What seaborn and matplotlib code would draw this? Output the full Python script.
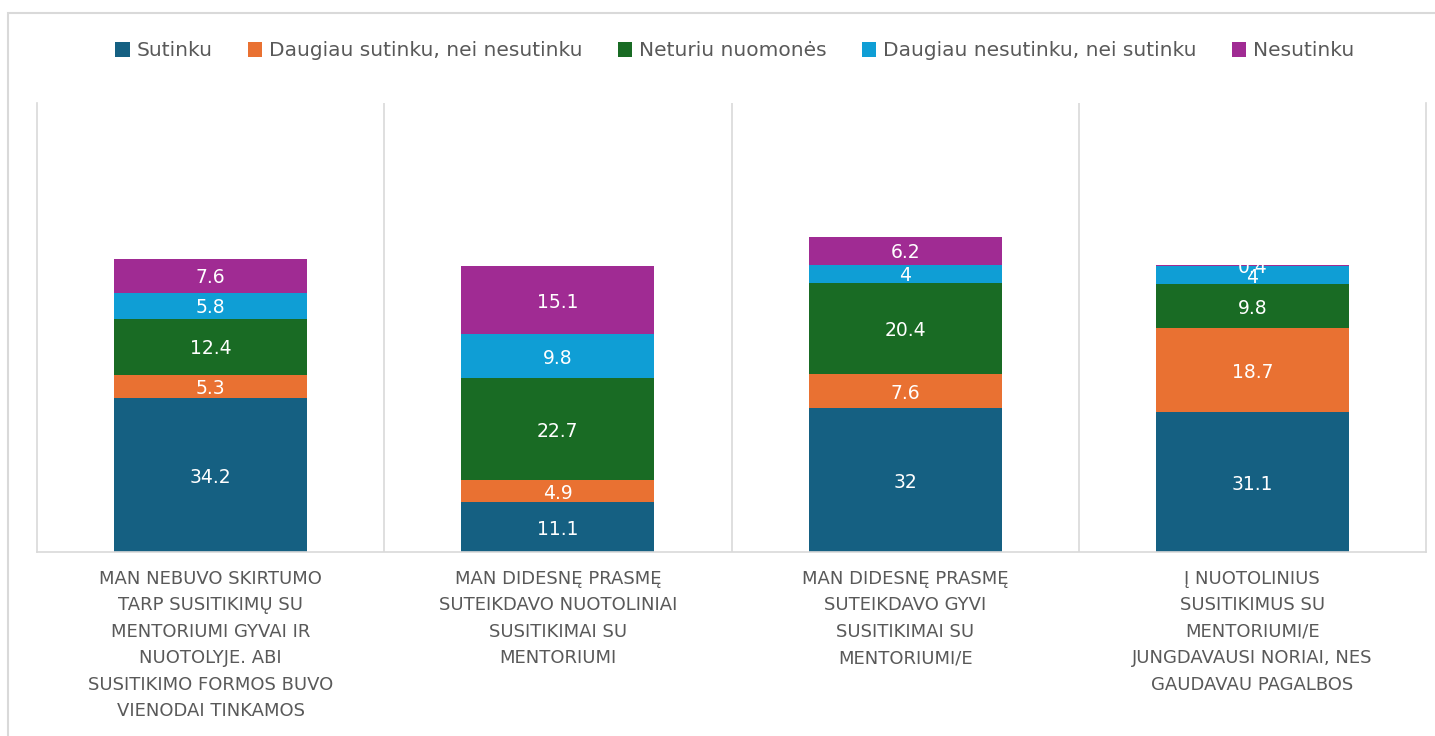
import matplotlib
matplotlib.use("Agg")
import matplotlib.pyplot as plt
import seaborn as sns
import pandas as pd
import numpy as np
from matplotlib.patches import Patch, Rectangle

categories = [
    "MAN NEBUVO SKIRTUMO\nTARP SUSITIKIMŲ SU\nMENTORIUMI GYVAI IR\nNUOTOLYJE. ABI\nSUSITIKIMO FORMOS BUVO\nVIENODAI TINKAMOS",
    "MAN DIDESNĘ PRASMĘ\nSUTEIKDAVO NUOTOLINIAI\nSUSITIKIMAI SU\nMENTORIUMI",
    "MAN DIDESNĘ PRASMĘ\nSUTEIKDAVO GYVI\nSUSITIKIMAI SU\nMENTORIUMI/E",
    "Į NUOTOLINIUS\nSUSITIKIMUS SU\nMENTORIUMI/E\nJUNGDAVAUSI NORIAI, NES\nGAUDAVAU PAGALBOS",
]
series_names = [
    "Sutinku",
    "Daugiau sutinku, nei nesutinku",
    "Neturiu nuomonės",
    "Daugiau nesutinku, nei sutinku",
    "Nesutinku",
]
sutinku = [34.2, 11.1, 32, 31.1]
daugiau_sutinku = [5.3, 4.9, 7.6, 18.7]
neturiu = [12.4, 22.7, 20.4, 9.8]
daugiau_nesutinku = [5.8, 9.8, 4, 4]
nesutinku = [7.6, 15.1, 6.2, 0.4]

colors = ["#156082", "#E97132", "#196B24", "#0F9ED5", "#A02B93"]

series_values = [sutinku, daugiau_sutinku, neturiu, daugiau_nesutinku, nesutinku]

sns.set_theme(style="white")
plt.rcParams["font.family"] = ["DejaVu Sans"]

fig = plt.figure(figsize=(14.35, 7.36), dpi=100)
ax = fig.add_axes([37 / 1435, 1 - 552 / 736, (1426 - 37) / 1435, (552 - 103) / 736])

# outer frame
fig.patches.append(Rectangle((8 / 1435, -0.05), 1.1, 1 - 13 / 736 + 0.05,
                             transform=fig.transFigure, fill=False,
                             edgecolor="#D9D9D9", linewidth=1.5, zorder=0))

vals = np.array(series_values)
cum = np.cumsum(vals, axis=0)

# draw cumulative bars from top to bottom so lower segments overlay
for i in range(len(series_names) - 1, -1, -1):
    df = pd.DataFrame({"cat": categories, "val": cum[i]})
    sns.barplot(data=df, x="cat", y="val", order=categories, color=colors[i],
                width=0.556, saturation=1, ax=ax, errorbar=None,
                edgecolor="none", linewidth=0)

# data labels
for i in range(len(series_names)):
    for j in range(len(categories)):
        v = vals[i, j]
        mid = cum[i, j] - v / 2
        ax.text(j, mid, f"{v:g}", ha="center", va="center_baseline",
                color="white", fontsize=13.5)

ax.set_ylim(0, 100)
ax.set_xlim(-0.5, len(categories) - 0.5)
ax.set_xlabel("")
ax.set_ylabel("")
ax.set_yticks([])

for b in np.arange(0.5, len(categories) - 0.5, 1):
    ax.axvline(b, color="#D9D9D9", linewidth=1.2, zorder=0)

for s in ["left", "right", "bottom"]:
    ax.spines[s].set_visible(True)
    ax.spines[s].set_color("#D9D9D9")
    ax.spines[s].set_linewidth(1.2)
ax.spines["top"].set_visible(False)

ax.tick_params(axis="x", length=0, pad=13)
ax.set_xticks(range(len(categories)))
ax.set_xticklabels(categories, fontsize=13, color="#595959")
for t in ax.get_xticklabels():
    t.set_linespacing(1.6)

handles = [Patch(facecolor=c, edgecolor="none") for c in colors]
fig.legend(handles, series_names, loc="center", bbox_to_anchor=(0.512, 1 - 51 / 736),
           ncol=5, frameon=False, fontsize=14.5, labelcolor="#595959",
           handlelength=0.7, handleheight=0.7, handletextpad=0.35,
           columnspacing=1.75)

fig.savefig("out.png", dpi=100)
